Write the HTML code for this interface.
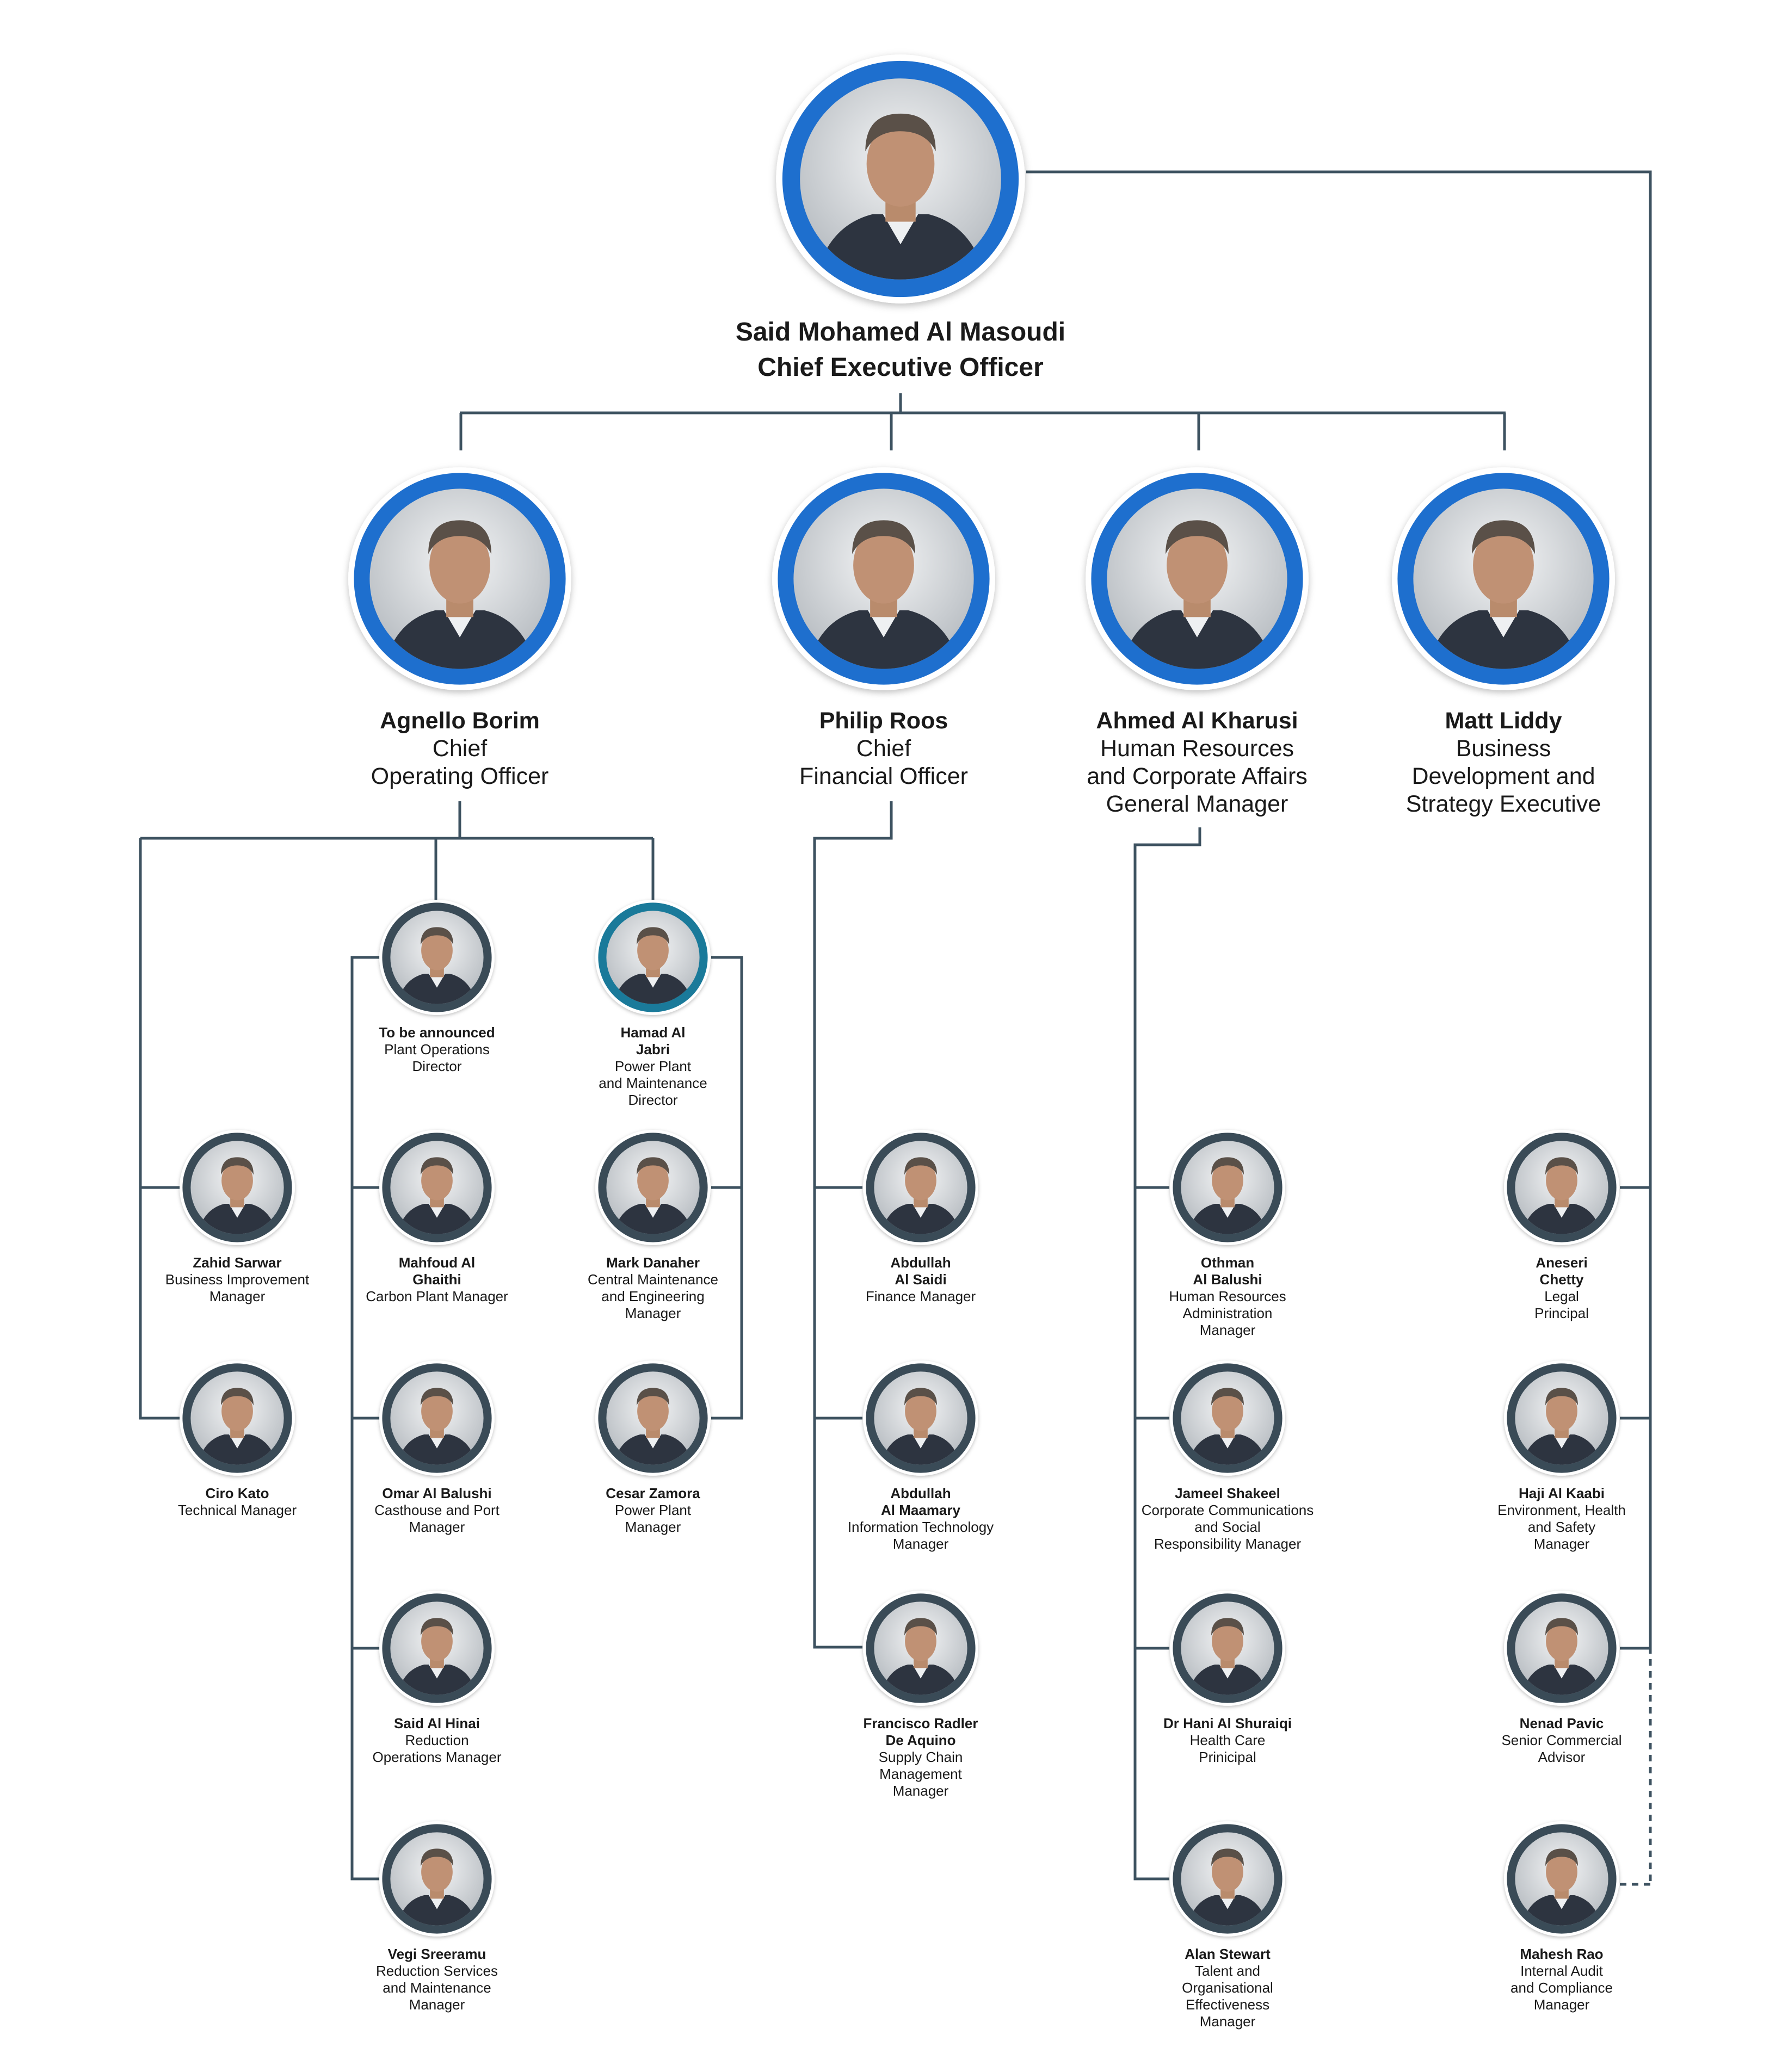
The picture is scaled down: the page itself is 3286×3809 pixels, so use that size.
<!DOCTYPE html>
<html><head><meta charset="utf-8"><style>
html,body{margin:0;padding:0;background:#fff;width:3286px;height:3809px;overflow:hidden}
svg{display:block}
text{font-family:"Liberation Sans",Arial,sans-serif;fill:#1a1a1a;text-anchor:middle}
.n{font-weight:bold;font-size:26px}
.t{font-size:26px}
.bn{font-weight:bold;font-size:43px}
.bt{font-size:43px}
.cn{font-weight:bold;font-size:48px}
</style></head><body>
<svg width="3286" height="3809" viewBox="0 0 3286 3809" xmlns="http://www.w3.org/2000/svg">
<defs>
<radialGradient id="bg" cx="50%" cy="40%" r="60%"><stop offset="0" stop-color="#f4f5f6"/><stop offset="1" stop-color="#b9bec3"/></radialGradient>
<clipPath id="cp"><circle cx="0" cy="0" r="80"/></clipPath>
<filter id="sh" x="-20%" y="-20%" width="140%" height="140%"><feDropShadow dx="0" dy="2" stdDeviation="3" flood-color="#000" flood-opacity="0.25"/></filter>
<symbol id="p" viewBox="-100 -100 200 200" overflow="visible">
<circle r="99" fill="#fff" filter="url(#sh)"/>
<circle r="94" fill="currentColor"/>
<circle r="80" fill="url(#bg)"/>
<g clip-path="url(#cp)">
<path d="M-70 90 Q-62 38 -22 28 L22 28 Q62 38 70 90 Z" fill="#2d3440"/>
<path d="M-14 28 L0 52 L14 28 Z" fill="#eef0f2"/>
<rect x="-12" y="10" width="24" height="24" fill="#b98b6c"/>
<ellipse cx="0" cy="-12" rx="27" ry="34" fill="#c09174"/>
<path d="M-28 -22 Q-28 -52 0 -52 Q28 -52 28 -22 Q20 -38 0 -38 Q-20 -38 -28 -22 Z" fill="#5a5048"/>
</g>
</symbol>
</defs>

<g stroke="#3d5260" stroke-width="5" fill="none">
<!-- CEO right -->
<polyline points="1886,316 3033,316 3033,3028"/>
<line x1="3033" y1="3028" x2="3033" y2="3466" stroke-dasharray="12,10"/>
<line x1="2977" y1="2183" x2="3033" y2="2183"/>
<line x1="2977" y1="2607" x2="3033" y2="2607"/>
<line x1="2977" y1="3030" x2="3033" y2="3030"/>
<line x1="2977" y1="3464" x2="3033" y2="3464" stroke-dasharray="12,10"/>
<!-- CEO down -->
<line x1="1655" y1="723" x2="1655" y2="759"/>
<line x1="845" y1="759" x2="2767" y2="759"/>
<line x1="847" y1="759" x2="847" y2="828"/>
<line x1="1638" y1="759" x2="1638" y2="828"/>
<line x1="2203" y1="759" x2="2203" y2="828"/>
<line x1="2765" y1="759" x2="2765" y2="828"/>
<!-- COO -->
<polyline points="845,1473 845,1541"/>
<line x1="258" y1="1541" x2="1200" y2="1541"/>
<line x1="801" y1="1541" x2="801" y2="1655"/>
<line x1="1200" y1="1541" x2="1200" y2="1655"/>
<polyline points="258,1541 258,2607 331,2607"/>
<line x1="258" y1="2183" x2="331" y2="2183"/>
<polyline points="699,1760 647,1760 647,3454 699,3454"/>
<line x1="647" y1="2183" x2="699" y2="2183"/>
<line x1="647" y1="2607" x2="699" y2="2607"/>
<line x1="647" y1="3030" x2="699" y2="3030"/>
<polyline points="1307,1760 1363,1760 1363,2607 1307,2607"/>
<line x1="1307" y1="2183" x2="1363" y2="2183"/>
<!-- CFO -->
<polyline points="1638,1473 1638,1541 1497,1541 1497,3028 1585,3028"/>
<line x1="1497" y1="2183" x2="1585" y2="2183"/>
<line x1="1497" y1="2607" x2="1585" y2="2607"/>
<!-- HR -->
<polyline points="2205,1521 2205,1553 2086,1553 2086,3454 2149,3454"/>
<line x1="2086" y1="2183" x2="2149" y2="2183"/>
<line x1="2086" y1="2607" x2="2149" y2="2607"/>
<line x1="2086" y1="3030" x2="2149" y2="3030"/>
</g>

<!-- CEO -->
<use href="#p" x="1424" y="98" width="462" height="462" color="#1e6fce"/>
<text class="cn" x="1655" y="626">Said Mohamed Al Masoudi</text>
<text class="cn" x="1655" y="691">Chief Executive Officer</text>

<!-- Level 2 -->
<use href="#p" x="638" y="857" width="414" height="414" color="#1e6fce"/>
<use href="#p" x="1417" y="857" width="414" height="414" color="#1e6fce"/>
<use href="#p" x="1993" y="857" width="414" height="414" color="#1e6fce"/>
<use href="#p" x="2556" y="857" width="414" height="414" color="#1e6fce"/>
<text class="bn" x="845" y="1339">Agnello Borim</text>
<text class="bt" x="845" y="1390">Chief</text>
<text class="bt" x="845" y="1441">Operating Officer</text>
<text class="bn" x="1624" y="1339">Philip Roos</text>
<text class="bt" x="1624" y="1390">Chief</text>
<text class="bt" x="1624" y="1441">Financial Officer</text>
<text class="bn" x="2200" y="1339">Ahmed Al Kharusi</text>
<text class="bt" x="2200" y="1390">Human Resources</text>
<text class="bt" x="2200" y="1441">and Corporate Affairs</text>
<text class="bt" x="2200" y="1492">General Manager</text>
<text class="bn" x="2763" y="1339">Matt Liddy</text>
<text class="bt" x="2763" y="1390">Business</text>
<text class="bt" x="2763" y="1441">Development and</text>
<text class="bt" x="2763" y="1492">Strategy Executive</text>

<!-- Level 3 circles -->
<g color="#3a4b57">
<use href="#p" x="696" y="1653" width="214" height="214"/>
<use href="#p" x="1093" y="1653" width="214" height="214" color="#1a7a9a"/>
<use href="#p" x="329" y="2076" width="214" height="214"/>
<use href="#p" x="696" y="2076" width="214" height="214"/>
<use href="#p" x="1093" y="2076" width="214" height="214"/>
<use href="#p" x="1585" y="2076" width="214" height="214"/>
<use href="#p" x="2149" y="2076" width="214" height="214"/>
<use href="#p" x="2763" y="2076" width="214" height="214"/>
<use href="#p" x="329" y="2500" width="214" height="214"/>
<use href="#p" x="696" y="2500" width="214" height="214"/>
<use href="#p" x="1093" y="2500" width="214" height="214"/>
<use href="#p" x="1585" y="2500" width="214" height="214"/>
<use href="#p" x="2149" y="2500" width="214" height="214"/>
<use href="#p" x="2763" y="2500" width="214" height="214"/>
<use href="#p" x="696" y="2923" width="214" height="214"/>
<use href="#p" x="1585" y="2923" width="214" height="214"/>
<use href="#p" x="2149" y="2923" width="214" height="214"/>
<use href="#p" x="2763" y="2923" width="214" height="214"/>
<use href="#p" x="696" y="3347" width="214" height="214"/>
<use href="#p" x="2149" y="3347" width="214" height="214"/>
<use href="#p" x="2763" y="3347" width="214" height="214"/>
</g>

<!-- Row 1 text (base 1907) -->
<text class="n" x="803" y="1907">To be announced</text>
<text class="t" x="803" y="1938">Plant Operations</text>
<text class="t" x="803" y="1969">Director</text>
<text class="n" x="1200" y="1907">Hamad Al</text>
<text class="n" x="1200" y="1938">Jabri</text>
<text class="t" x="1200" y="1969">Power Plant</text>
<text class="t" x="1200" y="2000">and Maintenance</text>
<text class="t" x="1200" y="2031">Director</text>

<!-- Row 2 (base 2330) -->
<text class="n" x="436" y="2330">Zahid Sarwar</text>
<text class="t" x="436" y="2361">Business Improvement</text>
<text class="t" x="436" y="2392">Manager</text>
<text class="n" x="803" y="2330">Mahfoud Al</text>
<text class="n" x="803" y="2361">Ghaithi</text>
<text class="t" x="803" y="2392">Carbon Plant Manager</text>
<text class="n" x="1200" y="2330">Mark Danaher</text>
<text class="t" x="1200" y="2361">Central Maintenance</text>
<text class="t" x="1200" y="2392">and Engineering</text>
<text class="t" x="1200" y="2423">Manager</text>
<text class="n" x="1692" y="2330">Abdullah</text>
<text class="n" x="1692" y="2361">Al Saidi</text>
<text class="t" x="1692" y="2392">Finance Manager</text>
<text class="n" x="2256" y="2330">Othman</text>
<text class="n" x="2256" y="2361">Al Balushi</text>
<text class="t" x="2256" y="2392">Human Resources</text>
<text class="t" x="2256" y="2423">Administration</text>
<text class="t" x="2256" y="2454">Manager</text>
<text class="n" x="2870" y="2330">Aneseri</text>
<text class="n" x="2870" y="2361">Chetty</text>
<text class="t" x="2870" y="2392">Legal</text>
<text class="t" x="2870" y="2423">Principal</text>

<!-- Row 3 (base 2754) -->
<text class="n" x="436" y="2754">Ciro Kato</text>
<text class="t" x="436" y="2785">Technical Manager</text>
<text class="n" x="803" y="2754">Omar Al Balushi</text>
<text class="t" x="803" y="2785">Casthouse and Port</text>
<text class="t" x="803" y="2816">Manager</text>
<text class="n" x="1200" y="2754">Cesar Zamora</text>
<text class="t" x="1200" y="2785">Power Plant</text>
<text class="t" x="1200" y="2816">Manager</text>
<text class="n" x="1692" y="2754">Abdullah</text>
<text class="n" x="1692" y="2785">Al Maamary</text>
<text class="t" x="1692" y="2816">Information Technology</text>
<text class="t" x="1692" y="2847">Manager</text>
<text class="n" x="2256" y="2754">Jameel Shakeel</text>
<text class="t" x="2256" y="2785">Corporate Communications</text>
<text class="t" x="2256" y="2816">and Social</text>
<text class="t" x="2256" y="2847">Responsibility Manager</text>
<text class="n" x="2870" y="2754">Haji Al Kaabi</text>
<text class="t" x="2870" y="2785">Environment, Health</text>
<text class="t" x="2870" y="2816">and Safety</text>
<text class="t" x="2870" y="2847">Manager</text>

<!-- Row 4 (base 3177) -->
<text class="n" x="803" y="3177">Said Al Hinai</text>
<text class="t" x="803" y="3208">Reduction</text>
<text class="t" x="803" y="3239">Operations Manager</text>
<text class="n" x="1692" y="3177">Francisco Radler</text>
<text class="n" x="1692" y="3208">De Aquino</text>
<text class="t" x="1692" y="3239">Supply Chain</text>
<text class="t" x="1692" y="3270">Management</text>
<text class="t" x="1692" y="3301">Manager</text>
<text class="n" x="2256" y="3177">Dr Hani Al Shuraiqi</text>
<text class="t" x="2256" y="3208">Health Care</text>
<text class="t" x="2256" y="3239">Prinicipal</text>
<text class="n" x="2870" y="3177">Nenad Pavic</text>
<text class="t" x="2870" y="3208">Senior Commercial</text>
<text class="t" x="2870" y="3239">Advisor</text>

<!-- Row 5 (base 3601) -->
<text class="n" x="803" y="3601">Vegi Sreeramu</text>
<text class="t" x="803" y="3632">Reduction Services</text>
<text class="t" x="803" y="3663">and Maintenance</text>
<text class="t" x="803" y="3694">Manager</text>
<text class="n" x="2256" y="3601">Alan Stewart</text>
<text class="t" x="2256" y="3632">Talent and</text>
<text class="t" x="2256" y="3663">Organisational</text>
<text class="t" x="2256" y="3694">Effectiveness</text>
<text class="t" x="2256" y="3725">Manager</text>
<text class="n" x="2870" y="3601">Mahesh Rao</text>
<text class="t" x="2870" y="3632">Internal Audit</text>
<text class="t" x="2870" y="3663">and Compliance</text>
<text class="t" x="2870" y="3694">Manager</text>
</svg>
</body></html>
